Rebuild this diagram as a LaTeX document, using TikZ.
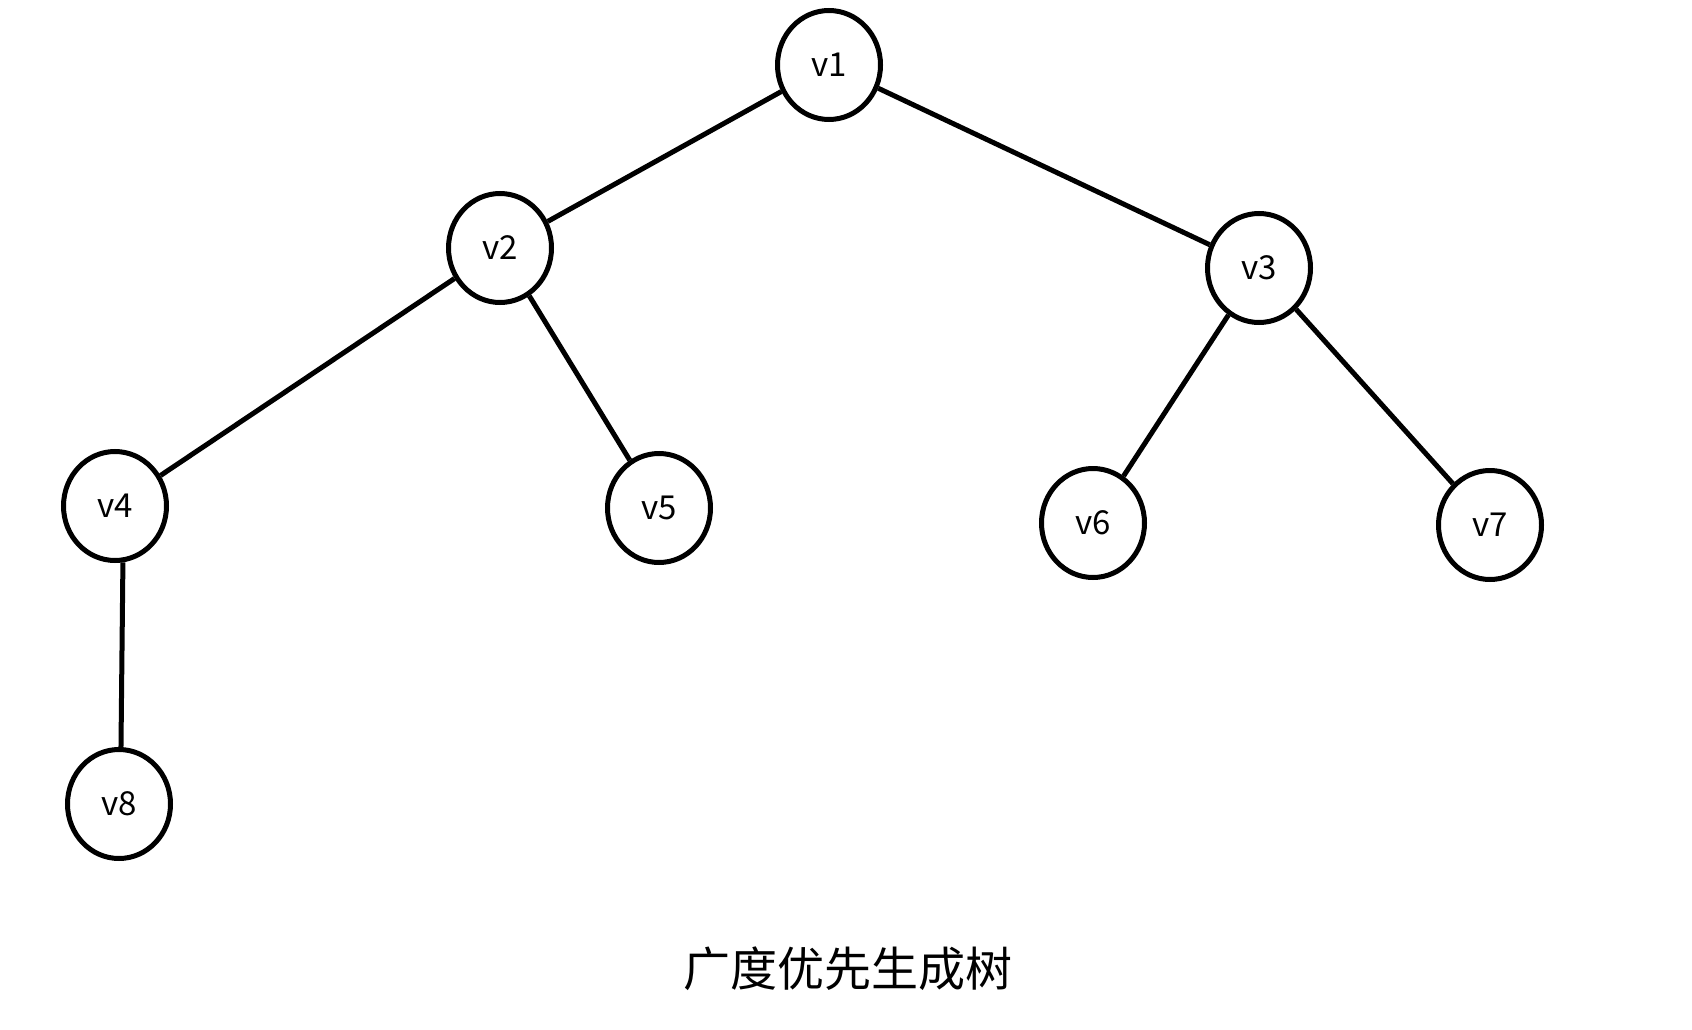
\documentclass[tikz,border=0pt]{standalone}
\usepackage{fontspec}
\setmainfont{Noto Sans CJK SC}
\usetikzlibrary{shapes.geometric}
\begin{document}
\begin{tikzpicture}[x=1pt,y=-1pt,
  vert/.style={draw=black,line width=5pt,ellipse,minimum width=103pt,minimum height=109pt,inner sep=0pt,font=\fontsize{33}{33}\selectfont},
  edge/.style={draw=black,line width=5pt}]
\useasboundingbox (0,0) rectangle (1692,1030);
\node[vert] (v1) at (829,65) {v1};
\node[vert] (v2) at (500,248) {v2};
\node[vert] (v3) at (1259,268) {v3};
\node[vert] (v4) at (115,506) {v4};
\node[vert] (v5) at (659,508) {v5};
\node[vert] (v6) at (1093,523) {v6};
\node[vert] (v7) at (1490,525) {v7};
\node[vert] (v8) at (119,804) {v8};
\draw[edge] (v1) -- (v2);
\draw[edge] (v1) -- (v3);
\draw[edge] (v2) -- (v4);
\draw[edge] (v2) -- (v5);
\draw[edge] (v3) -- (v6);
\draw[edge] (v3) -- (v7);
\draw[edge] (v4.-82) -- (v8.88);
\node[font=\fontsize{47}{47}\selectfont] (cap) at (848,969) {广度优先生成树};
\end{tikzpicture}
\end{document}
